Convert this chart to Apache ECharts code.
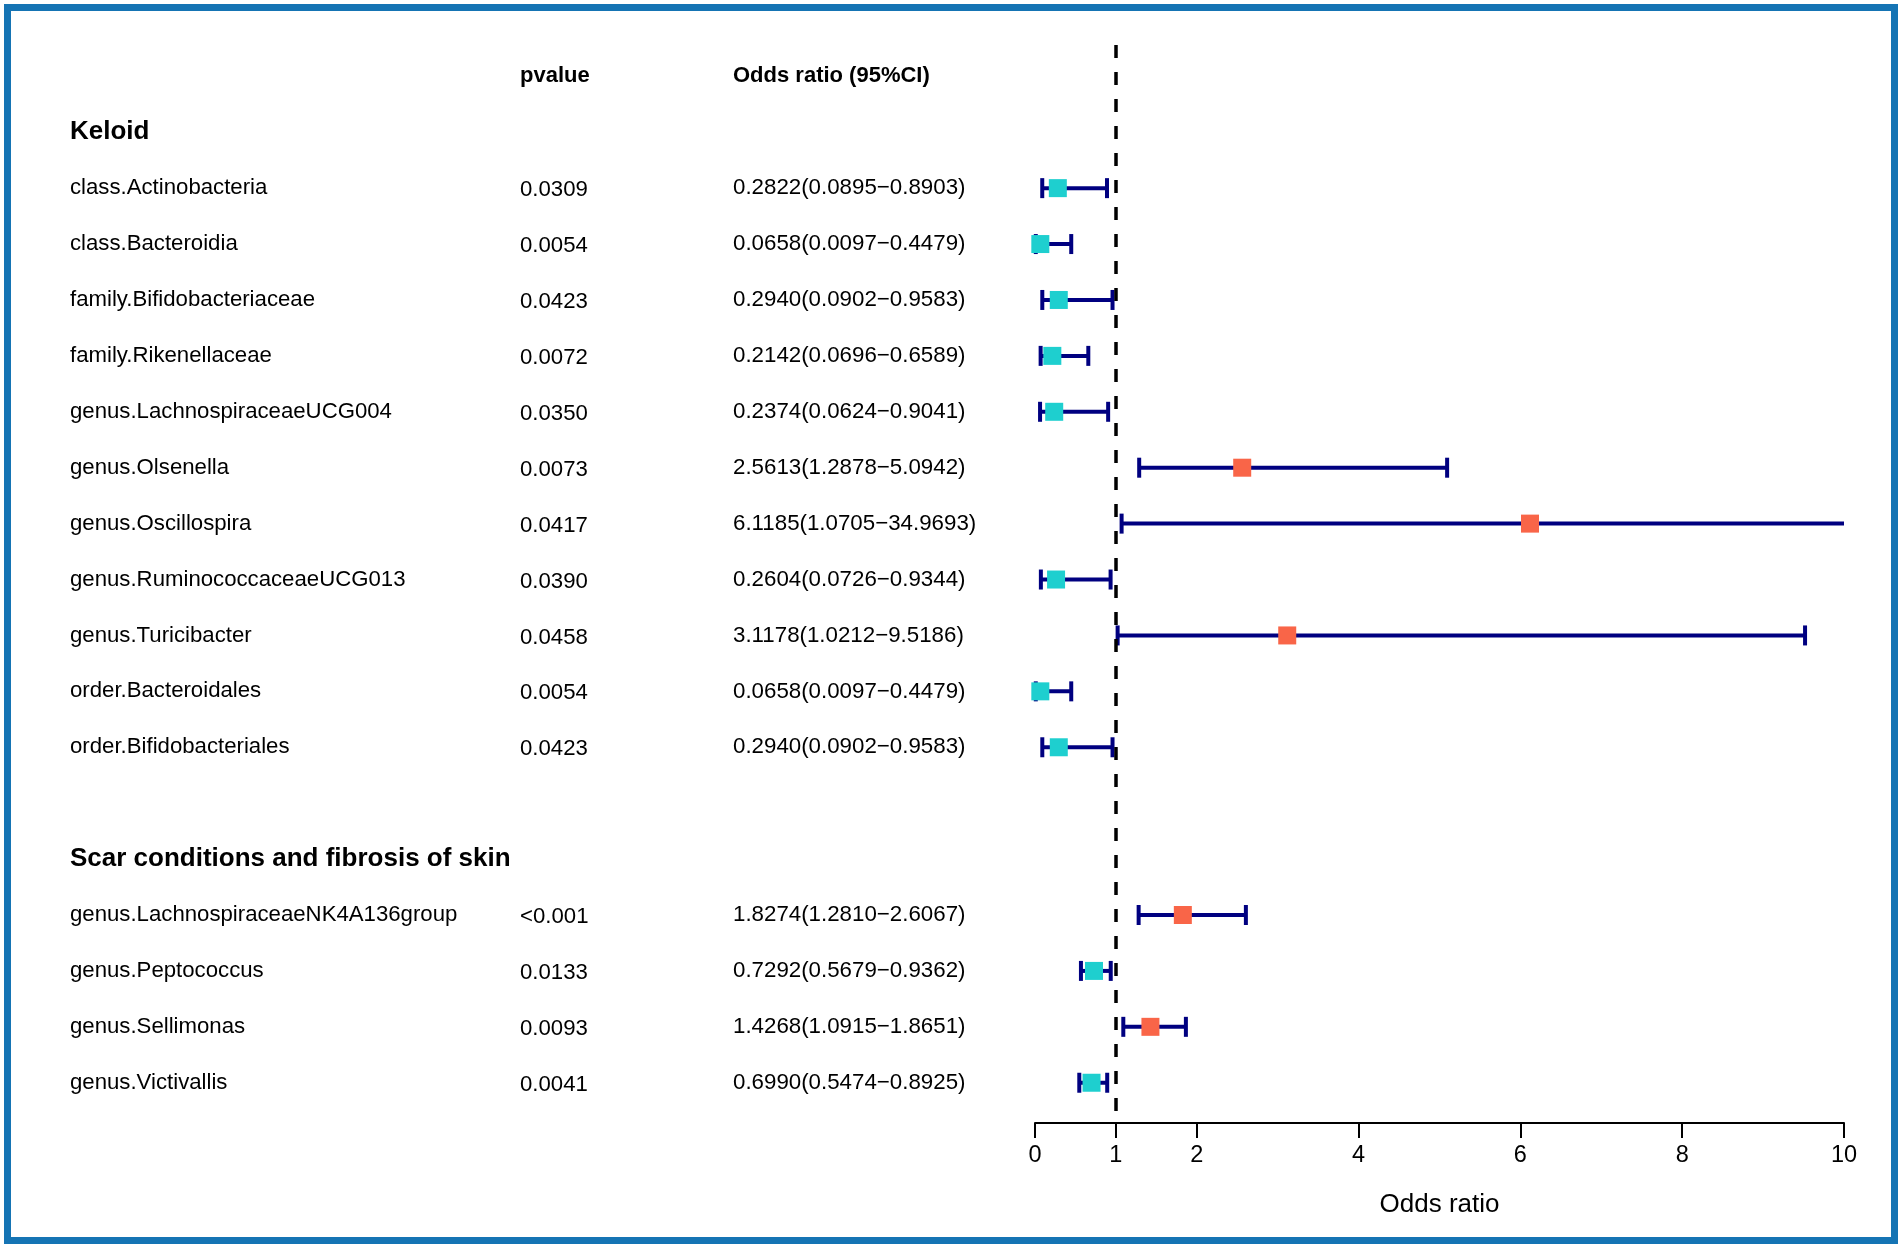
<!DOCTYPE html>
<html><head><meta charset="utf-8">
<script src="https://cdn.jsdelivr.net/npm/echarts@6.0.0/dist/echarts.min.js"></script>
<style>html,body{margin:0;padding:0;background:#fff}#main{width:1902px;height:1248px}</style>
</head><body><div id="main"></div>
<script>
// ---- data ----
const headers = ['pvalue', 'Odds ratio (95%CI)'];
const sectionTitles = ['Keloid', 'Scar conditions and fibrosis of skin'];

const keloidNames = ['class.Actinobacteria','class.Bacteroidia','family.Bifidobacteriaceae','family.Rikenellaceae','genus.LachnospiraceaeUCG004','genus.Olsenella','genus.Oscillospira','genus.RuminococcaceaeUCG013','genus.Turicibacter','order.Bacteroidales','order.Bifidobacteriales'];
const keloidP = ['0.0309','0.0054','0.0423','0.0072','0.0350','0.0073','0.0417','0.0390','0.0458','0.0054','0.0423'];
const keloidOR = [0.2822,0.0658,0.2940,0.2142,0.2374,2.5613,6.1185,0.2604,3.1178,0.0658,0.2940];
const keloidLow = [0.0895,0.0097,0.0902,0.0696,0.0624,1.2878,1.0705,0.0726,1.0212,0.0097,0.0902];
const keloidHigh = [0.8903,0.4479,0.9583,0.6589,0.9041,5.0942,34.9693,0.9344,9.5186,0.4479,0.9583];

const scarNames = ['genus.LachnospiraceaeNK4A136group','genus.Peptococcus','genus.Sellimonas','genus.Victivallis'];
const scarP = ['<0.001','0.0133','0.0093','0.0041'];
const scarOR = [1.8274,0.7292,1.4268,0.6990];
const scarLow = [1.2810,0.5679,1.0915,0.5474];
const scarHigh = [2.6067,0.9362,1.8651,0.8925];

const xTicks = [0, 1, 2, 4, 6, 8, 10];
const xMin = 0, xMax = 10, refLine = 1;

// ---- build rows ----
const FONT = "'Liberation Sans', Arial, Helvetica, sans-serif";
const COL_NAME = 70, COL_P = 520, COL_OR = 733;
const texts = [];
const items = [];
texts.push({row:0, x:COL_P, text:headers[0], bold:true, size:22});
texts.push({row:0, x:COL_OR, text:headers[1], bold:true, size:22});
let r = 1;
function addSection(title, names, ps, ors, lows, highs) {
  texts.push({row:r, x:COL_NAME, text:title, bold:true, size:26});
  r++;
  for (let i = 0; i < names.length; i++) {
    const orTxt = ors[i].toFixed(4) + '(' + lows[i].toFixed(4) + '\u2212' + highs[i].toFixed(4) + ')';
    texts.push({row:r, x:COL_NAME, text:names[i], size:22.2});
    texts.push({row:r, x:COL_P, text:ps[i], size:22.2, dy:2});
    texts.push({row:r, x:COL_OR, text:orTxt, size:22.3});
    items.push({row:r, or:ors[i], lo:lows[i], hi:highs[i]});
    r++;
  }
}
addSection(sectionTitles[0], keloidNames, keloidP, keloidOR, keloidLow, keloidHigh);
r++; // blank row
addSection(sectionTitles[1], scarNames, scarP, scarOR, scarLow, scarHigh);

const chart = echarts.init(document.getElementById('main'), null, {renderer:'canvas'});
const option = {
  animation: false,
  backgroundColor: '#fff',
  grid: {left: 1035, right: 58, top: 45, bottom: 125},
  xAxis: {
    type: 'value', min: xMin, max: xMax, position: 'bottom',
    axisLine: {show:true, onZero:false, lineStyle:{color:'#000', width:2}},
    axisTick: {show:true, length:15, lineStyle:{color:'#000', width:2}, customValues: xTicks},
    axisLabel: {color:'#000', fontSize:23.5, fontFamily:FONT, margin:21, customValues: xTicks},
    splitLine: {show:false},
    name: 'Odds ratio', nameLocation: 'middle', nameGap: 69,
    nameTextStyle: {color:'#000', fontSize:26, fontFamily:FONT}
  },
  yAxis: {type:'value', inverse:true, min:-0.56, max:18.72, show:false},
  graphic: [{
    type:'rect', shape:{x:7.5, y:7.5, width:1902-15, height:1248-15},
    style:{fill:'none', stroke:'#1574b4', lineWidth:7}, z:100
  }],
  series: [
    {
      type:'custom', z:1, clip:false,
      data: texts.map(t => [0, t.row]),
      renderItem: function(params, api) {
        const t = texts[params.dataIndex];
        const y = api.coord([0, t.row])[1] + (t.dy || 0);
        return {type:'text', x:t.x, y:y, style:{text:t.text, fill:'#000',
          font:(t.bold ? 'bold ' : '') + t.size + 'px ' + FONT, align:'left', verticalAlign:'middle'}};
      }
    },
    {
      type:'custom', z:2, clip:false,
      data: items.map(d => [d.lo, d.hi, d.row]),
      renderItem: function(params, api) {
        const lo = api.value(0), hi = api.value(1), row = api.value(2);
        const p1 = api.coord([Math.max(lo, xMin), row]);
        const p2 = api.coord([Math.min(hi, xMax), row]);
        const st = {stroke:'#000080', lineWidth:4};
        const ch = [{type:'line', shape:{x1:p1[0], y1:p1[1], x2:p2[0], y2:p2[1]}, style:st}];
        if (lo >= xMin) ch.push({type:'line', shape:{x1:p1[0], y1:p1[1]-10, x2:p1[0], y2:p1[1]+10}, style:st});
        if (hi <= xMax) ch.push({type:'line', shape:{x1:p2[0], y1:p2[1]-10, x2:p2[0], y2:p2[1]+10}, style:st});
        return {type:'group', children:ch};
      }
    },
    {
      type:'scatter', z:3, symbol:'rect', symbolSize:18,
      data: items.map(d => [d.or, d.row]),
      itemStyle: {opacity:1, color: p => p.value[0] < 1 ? '#1ecfcf' : '#f96548'},
      markLine: {
        silent:true, symbol:['none','none'], label:{show:false},
        lineStyle:{color:'#000', width:3.5, type:[13,14]},
        data:[{xAxis: refLine}]
      }
    }
  ]
};
chart.setOption(option);
</script>
</body></html>
